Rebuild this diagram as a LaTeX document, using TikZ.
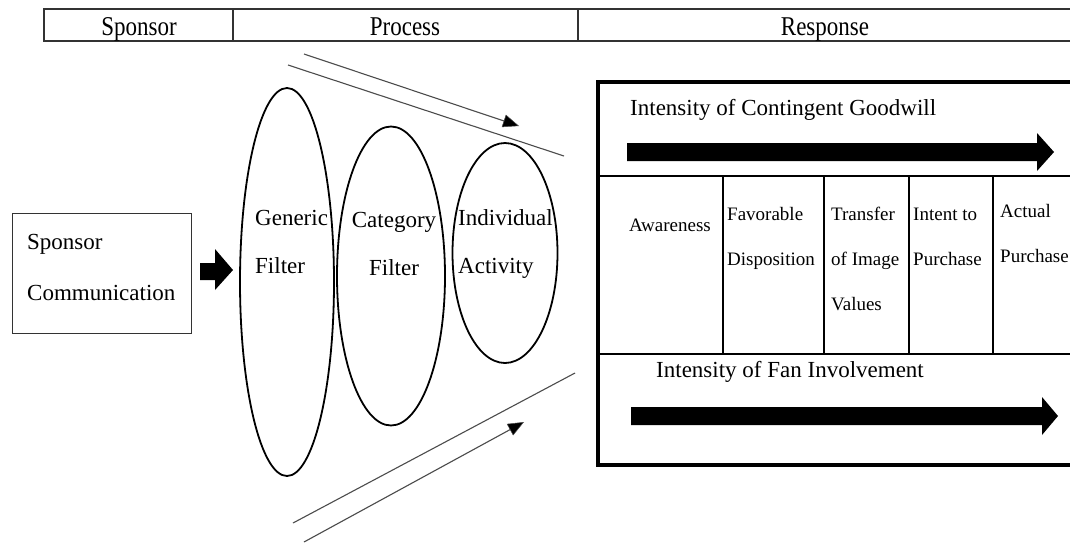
\documentclass[tikz,border=0pt]{standalone}
\usepackage{fontspec}
\setmainfont{Liberation Serif}
\usepackage{graphicx}
\usetikzlibrary{arrows.meta,shapes.geometric}
\newcommand{\mlines}[2]{\begin{tabular}[t]{@{}#1@{}}#2\end{tabular}}
\begin{document}
\begin{tikzpicture}[x=1pt,y=-1pt,
  hdr/.style={font=\fontsize{23}{23}\selectfont, anchor=base, inner sep=0},
  lbl/.style={font=\fontsize{23}{48}\selectfont, anchor=base west, inner sep=0},
  sml/.style={font=\fontsize{19}{45}\selectfont, anchor=base west, inner sep=0},
  filt/.style={ellipse, draw, line width=1.8, inner sep=0},
  hline/.style={draw=black!80, line width=1.4},
  guide/.style={draw=black!70, line width=1.1},
  guidearrow/.style={guide, -{Triangle[length=16pt,width=13pt,fill=black,line width=0.5pt]}},
  fat/.style={fill=black},
  frame/.style={line width=4.5},
  divider/.style={line width=2},
  vdivider/.style={line width=2.8}
]
\clip (0,0) rectangle (1070,544);
\useasboundingbox (0,0) rectangle (1070,544);
\fill[white] (0,0) rectangle (1070,544);

% header table
\draw[hline] (1075,9) -- (44,9) -- (44,41) -- (1075,41);
\draw[hline] (233,9) -- (233,41);
\draw[hline] (578,9) -- (578,41);
\node[hdr] (hsponsor) at (139,35) {\scalebox{1}[1.18]{Sponsor}};
\node[hdr] (hprocess) at (405,35) {\scalebox{1}[1.18]{Process}};
\node[hdr] (hresponse) at (825,35) {\scalebox{1}[1.18]{Response}};

% sponsor communication box
\node[draw=black!80, line width=1.2, minimum width=179, minimum height=120, inner sep=0, anchor=north west] (sc) at (12,213) {};
\node[font=\fontsize{23}{51}\selectfont, anchor=base west, inner sep=0] (sctext) at (27,249) {\mlines{l}{Sponsor\\Communication}};

% fat arrow
\fill[fat] (200,263) -- (215,263) -- (215,249) -- (233,270) -- (215,290) -- (215,280) -- (200,280) -- cycle;

% filters
\node[filt, minimum width=94, minimum height=388] (e1) at (287,282) {};
\node[filt, minimum width=108, minimum height=299] (e2) at (391,276) {};
\node[filt, minimum width=105, minimum height=220] (e3) at (505,253) {};
\node[lbl] (t1) at (255,225) {\mlines{l}{Generic\\Filter}};
\node[font=\fontsize{23}{48}\selectfont, anchor=base, inner sep=0] (t2) at (394,227) {\mlines{c}{Category\\Filter}};
\node[lbl] (t3) at (458,225) {\mlines{l}{Individual\\Activity}};

% guide lines
\coordinate (ua1) at (304,54);  \coordinate (ua2) at (519,126);
\coordinate (ul1) at (288,65);  \coordinate (ul2) at (564,156);
\coordinate (ll1) at (293,523); \coordinate (ll2) at (575,373);
\coordinate (la1) at (304,542); \coordinate (la2) at (524,422);
\draw[guidearrow] (ua1) -- (ua2);
\draw[guide] (ul1) -- (ul2);
\draw[guide] (ll1) -- (ll2);
\draw[guidearrow] (la1) -- (la2);

% response box
\draw[frame] (598,82) rectangle (1085,465);
\draw[divider] (598,176) -- (1085,176);
\draw[divider] (598,354) -- (1085,354);
\draw[vdivider] (723,176) -- (723,354);
\draw[vdivider] (824,176) -- (824,354);
\draw[vdivider] (909,176) -- (909,354);
\draw[divider] (993,176) -- (993,354);

\node[lbl] (goodwill) at (630,115) {Intensity of Contingent Goodwill};
\fill[fat] (627,143) -- (1037,143) -- (1037,133) -- (1054,152) -- (1037,171) -- (1037,161) -- (627,161) -- cycle;

\node[sml] (aw) at (629,231) {Awareness};
\node[sml] (fav) at (727,220) {\mlines{l}{Favorable\\Disposition}};
\node[sml] (tr) at (831,220) {\mlines{l}{Transfer\\of Image\\Values}};
\node[sml] (it) at (913,220) {\mlines{l}{Intent to\\Purchase}};
\node[sml] (ap) at (1000,217) {\mlines{l}{Actual\\Purchase}};

\node[lbl] (fan) at (656,377) {Intensity of Fan Involvement};
\fill[fat] (631,407) -- (1042,407) -- (1042,397) -- (1058,416) -- (1042,435) -- (1042,425) -- (631,425) -- cycle;
\end{tikzpicture}
\end{document}
